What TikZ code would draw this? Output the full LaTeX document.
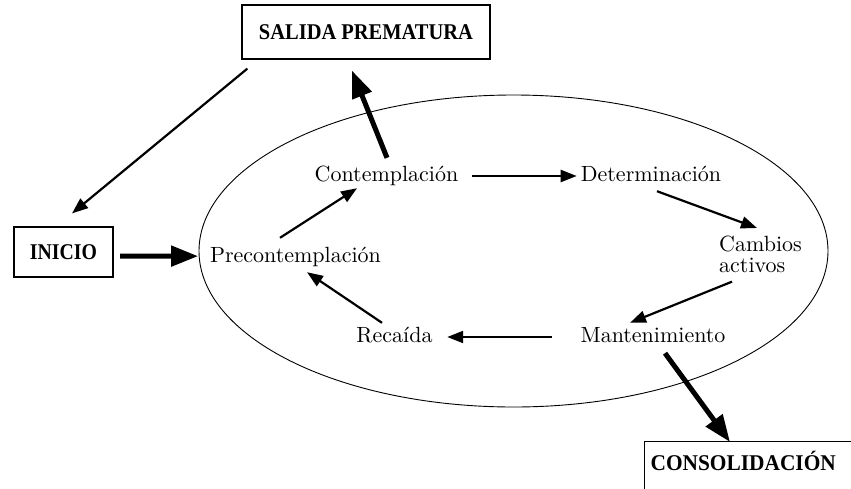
\documentclass[tikz,border=0pt]{standalone}
\usepackage{fontspec}
\newfontfamily\boxfontA{Liberation Serif}[FakeStretch=0.88]
\newfontfamily\boxfontB{Liberation Serif}[FakeStretch=0.91]
\newfontfamily\boxfontC{Liberation Serif}[FakeStretch=0.95]
\newfontfamily\stagefont{lmroman10-regular.otf}
\usetikzlibrary{arrows.meta}
\begin{document}
\begin{tikzpicture}[x=1pt,y=-1pt,
  stagebase/.style={inner sep=0pt, font=\stagefont\fontsize{22}{20.5}\selectfont},
  stage/.style={stagebase, anchor=base, text height=16pt, text depth=4.3pt},
  boxst/.style={draw, line width=1.2pt},
  boxtext/.style={font=#1\bfseries\fontsize{22.5}{24}\selectfont},
  thin/.style={line width=2.2pt, -{Triangle[length=16pt,width=12pt]}},
  thick/.style={line width=5pt, -{Triangle[length=27pt,width=20pt]}}]
\useasboundingbox (0,0) rectangle (851,488);
% boxes
\node[boxst, boxtext=\boxfontB, minimum width=248pt, minimum height=54pt] (salida) at (366,32) {SALIDA PREMATURA};
\node[boxst, boxtext=\boxfontA, minimum width=99pt, minimum height=50pt] (inicio) at (63.5,252) {INICIO};
\node[boxst, boxtext=\boxfontC, anchor=north west, inner xsep=6pt, inner ysep=13pt, text width=220pt, align=left, text height=16pt, text depth=40pt] (cons) at (644,441) {CONSOLIDACIÓN};
% ellipse
\draw[line width=0.9pt] (513.5,251) ellipse [x radius=314.5pt, y radius=156pt];
% stages
\node[stage] (cont) at (386.5,181) {Contemplación};
\node[stage] (det) at (651,181) {Determinación};
\node[stage] (pre) at (295.5,262) {Precontemplación};
\node[stage] (rec) at (394.5,342) {Recaída};
\node[stage] (man) at (653,342) {Mantenimiento};
\node[stagebase, anchor=north west, align=left] (cam) at (719,236) {Cambios\\activos};
% connectors
\draw[thick] ([shift={(6.5,4)}]inicio.east) -- ([shift={(-11.75,0)}]pre.west);
\draw[thin] ([shift={(6,9)}]salida.south west) -- ([shift={(8.5,-13)}]inicio.north);
\draw[thick] ([shift={(0.5,-7)}]cont.north) -- ([shift={(-14,11)}]salida.south);
\draw[thin] ([shift={(-15.5,-8)}]pre.north) -- ([shift={(42.6,2.7)}]cont.south west);
\draw[thin] ([shift={(13.4,0.85)}]cont.east) -- ([shift={(-3.9,0.85)}]det.west);
\draw[thin] ([shift={(6,5.7)}]det.south) -- ([shift={(-3.5,-8)}]cam.north);
\draw[thin] ([shift={(-28.5,9)}]cam.south) -- ([shift={(-23,-3)}]man.north);
\draw[thin] ([shift={(-28,0.85)}]man.west) -- ([shift={(14.5,0.85)}]rec.east);
\draw[thin] ([shift={(-12.5,-3)}]rec.north) -- ([shift={(11.5,5.7)}]pre.south);
\draw[thick] ([shift={(12,6.7)}]man.south) -- ([shift={(86,1)}]cons.north west);
\end{tikzpicture}
\end{document}
